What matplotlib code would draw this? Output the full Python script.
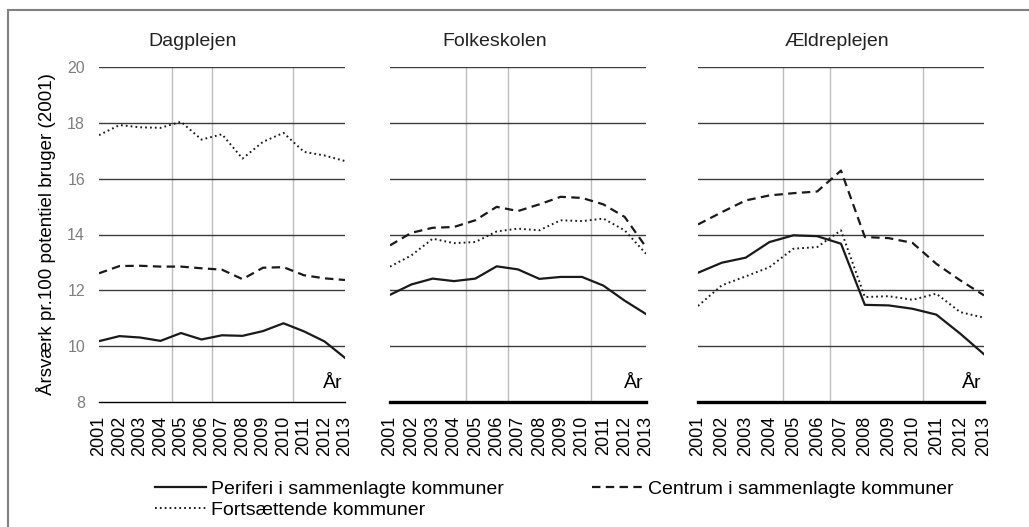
import matplotlib
matplotlib.use('Agg')
import matplotlib.pyplot as plt
from matplotlib.patches import Rectangle
from matplotlib.lines import Line2D

plt.rcParams['font.family'] = ['Liberation Sans', 'DejaVu Sans']

years = list(range(2001, 2014))
panels = ['Dagplejen', 'Folkeskolen', 'Ældreplejen']

# Periferi i sammenlagte kommuner
periferi = {
    'Dagplejen':   [10.18, 10.36, 10.31, 10.19, 10.47, 10.24, 10.39, 10.37, 10.54, 10.82, 10.53, 10.17, 9.58],
    'Folkeskolen': [11.84, 12.21, 12.42, 12.33, 12.42, 12.86, 12.75, 12.41, 12.48, 12.48, 12.17, 11.63, 11.15],
    'Ældreplejen': [12.63, 12.99, 13.17, 13.73, 13.97, 13.94, 13.67, 11.48, 11.46, 11.34, 11.13, 10.45, 9.71],
}
# Centrum i sammenlagte kommuner
centrum = {
    'Dagplejen':   [12.61, 12.87, 12.88, 12.85, 12.85, 12.79, 12.74, 12.40, 12.81, 12.83, 12.54, 12.43, 12.37],
    'Folkeskolen': [13.61, 14.06, 14.24, 14.27, 14.51, 14.99, 14.84, 15.08, 15.35, 15.31, 15.08, 14.63, 13.55],
    'Ældreplejen': [14.36, 14.80, 15.22, 15.40, 15.48, 15.54, 16.29, 13.91, 13.87, 13.70, 12.95, 12.36, 11.82],
}
# Fortsættende kommuner
fortsaet = {
    'Dagplejen':   [17.56, 17.92, 17.84, 17.82, 18.04, 17.40, 17.59, 16.72, 17.32, 17.64, 16.96, 16.83, 16.63],
    'Folkeskolen': [12.85, 13.25, 13.85, 13.69, 13.73, 14.11, 14.21, 14.15, 14.51, 14.48, 14.57, 14.15, 13.31],
    'Ældreplejen': [11.44, 12.18, 12.50, 12.83, 13.49, 13.55, 14.15, 11.76, 11.79, 11.66, 11.88, 11.22, 11.02],
}
ref_lines = [2004.57, 2006.52, 2010.44]
yticks = [8, 10, 12, 14, 16, 18, 20]

W, H = 1029, 527
fig = plt.figure(figsize=(W / 100, H / 100), dpi=100)

# axes boxes in pixels: left, right
boxes = [(99, 345), (390, 646), (698, 984)]
title_x = [193, 495, 837]
top_px, bot_px = 67, 402

dash = (0, (3.8, 2.4))
dot = (0, (0.9, 1.6))

for i, name in enumerate(panels):
    l, r = boxes[i]
    ax = fig.add_axes([l / W, 1 - bot_px / H, (r - l) / W, (bot_px - top_px) / H])
    ax.set_xlim(2001, 2013)
    ax.set_ylim(8, 20)
    for v in ref_lines:
        ax.axvline(v, color='#bdbdbd', lw=1.0, zorder=1)
    for yv in yticks[1:]:
        ax.axhline(yv, color='#3c3c3c', lw=1.0, zorder=2)
    ax.plot(years, periferi[name], color='#1a1a1a', lw=1.6, zorder=4)
    ax.plot(years, centrum[name], color='#1a1a1a', lw=1.6, linestyle=dash, zorder=4)
    ax.plot(years, fortsaet[name], color='#1a1a1a', lw=1.4, linestyle=dot, zorder=4)

    for s in ['top', 'right', 'left']:
        ax.spines[s].set_visible(False)
    ax.spines['bottom'].set_color('black')
    ax.spines['bottom'].set_linewidth(1.0 if i == 0 else 2.4)

    ax.set_xticks(years)
    ax.set_xticklabels([str(y) for y in years], rotation=90, fontsize=13)
    ax.tick_params(axis='x', length=0, pad=10)
    ax.set_yticks(yticks)
    if i == 0:
        ax.set_yticklabels([str(y) for y in yticks], fontsize=11.5, color='#7f7f7f')
        ax.tick_params(axis='y', length=0, pad=10)
        ax.set_ylabel('Årsværk pr.100 potentiel bruger (2001)', fontsize=13.5, labelpad=8)
    else:
        ax.set_yticklabels([])
        ax.tick_params(axis='y', length=0)
    ax.text(0.99, 0.03, 'År', transform=ax.transAxes, ha='right', va='bottom', fontsize=14)
    fig.text(title_x[i] / W, 1 - 42 / H, name, ha='center', va='center', fontsize=14, color='#222222')

handles = [
    Line2D([], [], color='#1a1a1a', lw=1.6),
    Line2D([], [], color='#1a1a1a', lw=1.4, linestyle=dot),
    Line2D([], [], color='#1a1a1a', lw=1.6, linestyle=dash),
]
labels = ['Periferi i sammenlagte kommuner', 'Fortsættende kommuner',
          'Centrum i sammenlagte kommuner']
fig.legend(handles, labels, ncol=2, loc='upper left',
           bbox_to_anchor=(155 / W, 1 - 480 / H), frameon=False, fontsize=14,
           handlelength=2.6, handletextpad=0.3, columnspacing=4.5,
           labelspacing=0.2, borderpad=0, borderaxespad=0)

fig.patches.append(Rectangle((8 / W, -0.1), 1.2, 1 - 10 / H + 0.1, transform=fig.transFigure,
                             fill=False, edgecolor='#808080', lw=1.5))

fig.savefig('out.png', dpi=100)
